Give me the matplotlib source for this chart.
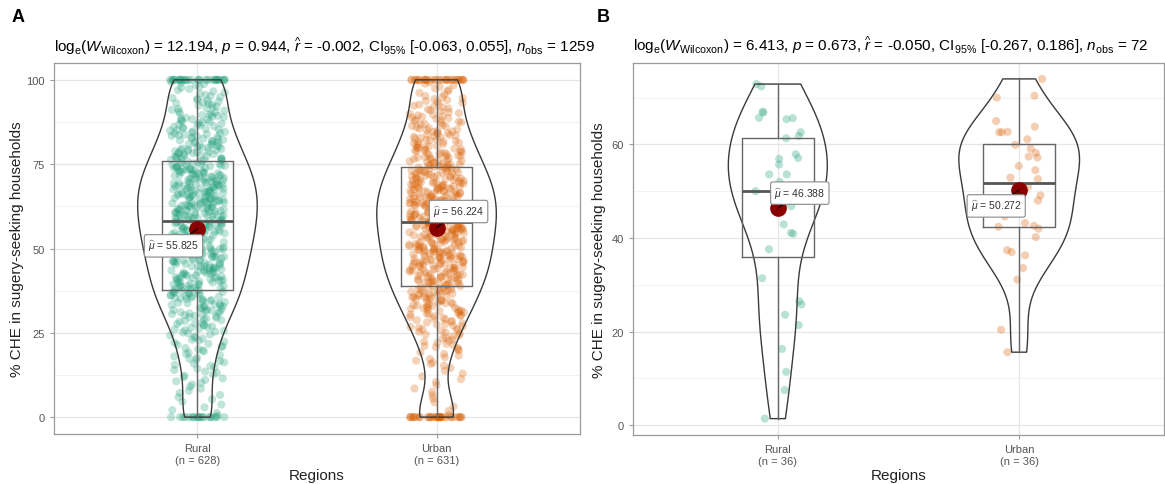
import numpy as np
import matplotlib
matplotlib.use("Agg")
import matplotlib.pyplot as plt

plt.rcParams['font.family'] = ['Liberation Sans', 'DejaVu Sans']
plt.rcParams['mathtext.fontset'] = 'custom'
plt.rcParams['mathtext.rm'] = 'Liberation Sans'
plt.rcParams['mathtext.it'] = 'Liberation Sans:italic'
plt.rcParams['mathtext.bf'] = 'Liberation Sans:bold'

# ---------------- data ----------------
categories = ["Rural", "Urban"]
colors = ["#1b9e77", "#d95f02"]

# Panel A: counts read per value band (exact 0, 5-unit bins from 0 to 100, exact 100)
bin_edges_A = [0, 5, 10, 15, 20, 25, 30, 35, 40, 45, 50, 55, 60, 65, 70, 75, 80, 85, 90, 95, 100]
rural_A_zero, rural_A_hundred = 20, 30
rural_A_bins = [6, 8, 12, 14, 16, 22, 30, 36, 38, 40, 44, 46, 48, 48, 44, 36, 30, 26, 20, 14]
urban_A_zero, urban_A_hundred = 35, 30
urban_A_bins = [4, 5, 6, 10, 16, 22, 30, 36, 42, 46, 44, 50, 50, 48, 42, 34, 28, 24, 18, 11]
n_A = [628, 631]
# box statistics: min, Q1, median, Q3, max
box_A = [[0, 37.7, 58.3, 75.9, 100], [0, 39.0, 57.8, 74.2, 100]]
mean_A = [55.825, 56.224]
subtitle_A = (r"$\mathrm{log}_{\mathrm{e}}(W_{\mathrm{Wilcoxon}})$ = 12.194, $p$ = 0.944, "
              r"$\widehat{r}$ = -0.002, CI$_{95\%}$ [-0.063, 0.055], $n_{\mathrm{obs}}$ = 1259")

# Panel B: individual observations
rural_B = [72.9, 72.4, 65.7, 65.6, 66.8, 67.0, 65.4, 61.8, 61.3, 62.6, 57.9, 56.9,
           57.1, 55.7, 53.6, 53.6, 52.0, 51.0, 50.0, 50.0, 49.0, 47.0, 46.8, 42.9,
           41.1, 40.9, 37.6, 31.4, 26.5, 25.8, 23.6, 21.4, 16.3, 11.4, 7.5, 1.4]
urban_B = [74.0, 70.4, 70.0, 65.0, 63.8, 62.6, 62.7, 62.6, 61.1, 59.9, 59.1, 58.2,
           57.4, 57.2, 55.4, 54.5, 52.9, 52.6, 50.9, 49.1, 50.0, 48.0, 46.0, 44.6,
           43.2, 42.4, 42.0, 42.6, 40.2, 37.4, 37.0, 36.3, 33.6, 31.1, 20.4, 15.6]
n_B = [36, 36]
box_B = [[1.4, 36.0, 50.0, 61.4, 72.9], [15.6, 42.3, 51.7, 60.1, 74.0]]
mean_B = [46.388, 50.272]
subtitle_B = (r"$\mathrm{log}_{\mathrm{e}}(W_{\mathrm{Wilcoxon}})$ = 6.413, $p$ = 0.673, "
              r"$\widehat{r}$ = -0.050, CI$_{95\%}$ [-0.267, 0.186], $n_{\mathrm{obs}}$ = 72")

y_label = "% CHE in sugery-seeking households"
x_label = "Regions"


def expand_bins(zero, bins, hundred):
    vals = [0.0] * zero
    for i, c in enumerate(bins):
        a, b = bin_edges_A[i], bin_edges_A[i + 1]
        vals += [a + (b - a) * (k + 0.5) / c for k in range(c)]
    vals += [100.0] * hundred
    return np.array(vals)


def jitter(n, width, seed):
    # deterministic hash-based horizontal jitter (position only)
    i = np.arange(n, dtype=float)
    h = np.mod(np.sin(i * 12.9898 + seed * 78.233) * 43758.5453, 1.0)
    return (h - 0.5) * 2 * width


def nrd0_factor(v):
    sd = np.std(v, ddof=1)
    q1, q3 = np.percentile(v, [25, 75])
    h = 0.9 * min(sd, (q3 - q1) / 1.34) * len(v) ** (-0.2)
    return h / sd


def draw_panel(ax, groups, boxes, means, ns, vwidths, jw, label_offsets, ylim, yticks, yminor,
               seed, alpha):
    positions = [1, 2]
    ax.set_xlim(0.4, 2.6)
    ax.set_ylim(*ylim)
    ax.set_yticks(yticks)
    ax.set_yticks(yminor, minor=True)
    ax.set_xticks(positions)
    ax.set_xticklabels([f"{c}\n(n = {n})" for c, n in zip(categories, ns)])
    ax.grid(True, which='major', color='#e6e6e6', lw=0.9, zorder=0)
    ax.grid(True, which='minor', axis='y', color='#f0f0f0', lw=0.6, zorder=0)
    ax.set_axisbelow(True)
    for s in ax.spines.values():
        s.set_color('#9a9a9a')
        s.set_linewidth(0.9)
    ax.tick_params(axis='both', which='major', colors='#9a9a9a', labelcolor='#555555',
                   labelsize=8, length=3, width=0.8)
    ax.tick_params(axis='both', which='minor', length=0)

    for i, vals in enumerate(groups):
        vals = np.asarray(vals, dtype=float)
        p = positions[i]
        ax.scatter(p + jitter(len(vals), jw, seed + i), vals, s=34, color=colors[i],
                   alpha=alpha, edgecolors='none', zorder=2)
        vp = ax.violinplot([vals], positions=[p], widths=[vwidths[i]], showextrema=False,
                           bw_method=nrd0_factor(vals), points=200)
        for body in vp['bodies']:
            body.set_facecolor('none')
            body.set_edgecolor('#3a3a3a')
            body.set_linewidth(1.0)
            body.set_alpha(1)
            body.set_zorder(3)
        mn, q1, med, q3, mx = boxes[i]
        stats = [dict(whislo=mn, q1=q1, med=med, q3=q3, whishi=mx)]
        ax.bxp(stats, positions=[p], widths=0.3, showfliers=False, showcaps=False,
               boxprops=dict(color='#666666', lw=1.0),
               whiskerprops=dict(color='#666666', lw=1.0),
               medianprops=dict(color='#555555', lw=2.0), manage_ticks=False, zorder=4)
        ax.plot([p], [means[i]], 'o', color='#8b0000', markersize=11, zorder=5)
        ax.annotate(r"$\widehat{\mu}$ = " + f"{means[i]:.3f}", xy=(p, means[i]),
                    xytext=label_offsets[i], textcoords='offset pixels',
                    ha='center', va='center', fontsize=7.5, color='#333333',
                    bbox=dict(boxstyle='round,pad=0.35,rounding_size=0.2', fc='white',
                              ec='#888888', lw=0.8),
                    arrowprops=dict(arrowstyle='-', color='black', lw=0.8,
                                    shrinkA=0, shrinkB=0), zorder=6)


fig = plt.figure(figsize=(11.65, 4.85), dpi=100)
axA = fig.add_axes([54 / 1165, 1 - 435 / 485, 526 / 1165, 371 / 485])
axB = fig.add_axes([633 / 1165, 1 - 436 / 485, 531 / 1165, 372 / 485])

rural_A = expand_bins(rural_A_zero, rural_A_bins, rural_A_hundred)
urban_A = expand_bins(urban_A_zero, urban_A_bins, urban_A_hundred)

draw_panel(axA, [rural_A, urban_A], box_A, mean_A, n_A, [0.5, 0.5], 0.115,
           [(-24, -17), (22, 16)], (-5, 105), [0, 25, 50, 75, 100],
           [12.5, 37.5, 62.5, 87.5], 1, 0.28)
draw_panel(axB, [rural_B, urban_B], box_B, mean_B, n_B, [0.41, 0.5], 0.1,
           [(22, 15), (-23, -16)], (-2.1, 77.4), [0, 20, 40, 60],
           [10, 30, 50, 70], 5, 0.3)

for ax, sub in ((axA, subtitle_A), (axB, subtitle_B)):
    ax.set_title(sub, loc='left', fontsize=11, pad=9)
    ax.set_ylabel(y_label, fontsize=11, color='#222222')
    ax.set_xlabel(x_label, fontsize=11, color='#222222')
axA.yaxis.set_label_coords(-0.057, 0.5)
axB.yaxis.set_label_coords(-0.051, 0.5)
axA.xaxis.set_label_coords(0.5, -0.092)
axB.xaxis.set_label_coords(0.5, -0.089)

fig.text(12 / 1165, 1 - 18 / 485, "A", fontsize=13, fontweight='bold', va='center', ha='left')
fig.text(597 / 1165, 1 - 18 / 485, "B", fontsize=13, fontweight='bold', va='center', ha='left')

fig.savefig("out.png", dpi=100)
